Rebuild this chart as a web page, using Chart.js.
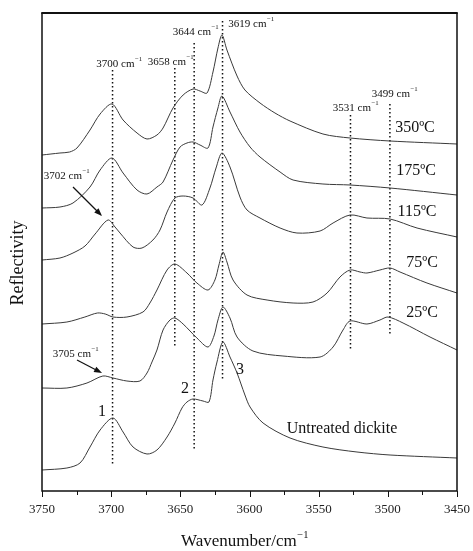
<!DOCTYPE html>
<html>
<head>
<meta charset="utf-8">
<script src="https://cdn.jsdelivr.net/npm/chart.js@4.4.1/dist/chart.umd.min.js"></script>
<style>
  html, body { margin: 0; padding: 0; background: #fff; }
  #chart { display: block; }
</style>
</head>
<body>
<canvas id="chart" width="473" height="551"></canvas>
<script>
// espectros IR (wavenumber, reflectividad desplazada en u.a.)
const t350 = [[3750,336],[3737,338],[3730,339],[3724.7,343],[3715.3,361],[3708,377],[3699.4,387],[3691.4,371],[3681.3,358],[3674.1,352],[3666.9,356],[3662.5,363],[3655.3,383],[3648,396],[3640.8,402],[3635.8,400],[3630.7,398],[3626.4,419],[3622.8,443],[3619.9,456],[3616.3,441],[3609,415],[3603.3,401],[3592.4,388],[3581.6,378],[3570.7,370],[3546.9,357],[3527.3,353],[3498.4,350],[3450,347]];
const t175 = [[3750,283],[3737,284],[3727.6,288],[3715.3,304],[3708,321],[3699.4,333],[3691.4,318],[3681.3,301],[3674.1,297],[3666.9,304],[3662.5,309],[3655.3,331],[3650.2,344],[3645.2,348],[3640.8,349],[3635.8,346],[3630,343],[3626.4,364],[3622.8,383],[3619.9,395],[3614.1,379],[3606.9,359],[3599.6,344],[3592.4,334],[3577.9,319],[3568.5,311],[3546.9,307],[3527.3,306],[3498.4,303],[3450,296]];
const t115 = [[3750,231],[3737,233],[3727.6,238],[3718.9,245],[3711.6,257],[3702.3,271],[3697.2,264],[3693.6,258],[3684.2,244],[3677.7,243],[3669.8,251],[3664.7,261],[3659.6,279],[3653.9,293],[3648,295],[3640.8,293],[3634.3,286],[3628.6,303],[3624.2,323],[3619.9,338],[3614.1,324],[3606.9,294],[3601.8,281],[3592.4,273],[3577.9,263],[3565.7,258],[3549,260],[3539.6,268],[3527.3,276],[3515.1,273],[3498.4,272],[3478.9,263],[3450,254]];
const t75 = [[3750,167],[3732,169],[3719,174],[3710,178],[3704.3,177],[3698.7,174],[3688.6,174],[3677,179],[3672,188],[3666.9,201],[3659.6,221],[3653.9,227],[3645.2,218],[3638,208],[3630,201],[3625,211],[3622.1,226],[3619.2,239],[3616.3,229],[3611.9,211],[3601.8,196],[3587.3,191],[3568.5,188],[3554.1,189],[3543.9,198],[3534.6,214],[3527.3,221],[3520.1,219],[3515.1,218],[3505.7,221],[3498.4,223],[3491.2,219],[3471.7,208],[3450,198]];
const t25 = [[3750,103],[3732,103],[3717.5,108],[3706,115],[3698.7,113],[3688.6,110],[3679.2,110],[3674.1,118],[3670.5,129],[3666.9,141],[3662.5,161],[3657.5,171],[3653.9,173],[3648,167],[3638,153],[3630,144],[3625.7,155],[3622.8,171],[3619.2,184],[3614.1,173],[3609,154],[3597.5,140],[3575.8,135],[3549,134],[3539.6,144],[3532.4,161],[3527.3,170],[3515.1,167],[3505.7,171],[3499.9,174],[3489,168],[3469.5,154],[3450,141]];
const untreated = [[3750,21],[3732,23],[3722.5,28],[3715.3,44],[3708,61],[3698.7,73],[3691.4,59],[3684.2,44],[3674.1,37],[3666.9,41],[3659.6,54],[3653.9,68],[3648.8,83],[3645.2,89],[3640.8,92],[3633.6,90],[3629.3,89],[3626.4,111],[3623.5,129],[3619.2,149],[3614.1,134],[3609,118],[3603.3,96],[3599.6,84],[3590.2,68],[3570.7,53],[3546.9,44],[3522.3,39],[3498.4,36],[3450,33]];

// lineas punteadas de los picos
const picosWn = [3699, 3654, 3640, 3619.5, 3527, 3498.5];
const picosTop = [421, 423, 448, 470, 376, 387];
const picosBottom = [27, 143, 40, 110, 140, 156];

// etiquetas de picos [texto, wn, y]
const etiquetasPicos = [['3700', 3694.3, 427], ['3658', 3657.1, 429], ['3644', 3639, 459], ['3619', 3598.9, 467], ['3531', 3523.4, 383], ['3499', 3495.2, 397], ['3702', 3732.3, 315], ['3705', 3725.8, 137]];
const flechas = [[3727.6, 304, 3706.6, 275], [3724.7, 131, 3706.6, 118]];
const etiquetasCurvas = [['350ºC', 3480.4, 363], ['175ºC', 3479.6, 320], ['115ºC', 3478.9, 279], ['75ºC', 3475.3, 228], ['25ºC', 3475.3, 178], ['Untreated dickite', 3533.1, 62]];
const numeros = [['1', 3706.6, 79], ['2', 3646.6, 102], ['3', 3606.9, 121]];

const xTicks = [3750, 3700, 3650, 3600, 3550, 3500, 3450];

const SERIF = "'Liberation Serif', 'Times New Roman', serif";

const toXY = arr => arr.map(p => ({ x: p[0], y: p[1] }));

const curvas = [t350, t175, t115, t75, t25, untreated].map(c => ({
    data: toXY(c),
    borderColor: '#3a3a3a',
    borderWidth: 1,
    pointRadius: 0,
    tension: 0.3,
    fill: false
}));

const lineasPicos = picosWn.map((wn, i) => ({
    data: [{ x: wn, y: picosTop[i] }, { x: wn, y: picosBottom[i] }],
    borderColor: '#111',
    borderWidth: 1.5,
    borderDash: [1.5, 2.5],
    pointRadius: 0,
    fill: false
}));

function textoSup(ctx, base, sup, cx, cy, size) {
    ctx.font = `${size}px ${SERIF}`;
    const w1 = ctx.measureText(base).width;
    ctx.font = `${size * 0.62}px ${SERIF}`;
    const w2 = ctx.measureText(sup).width;
    const x0 = cx - (w1 + w2) / 2;
    ctx.textAlign = 'left';
    ctx.textBaseline = 'middle';
    ctx.font = `${size}px ${SERIF}`;
    ctx.fillText(base, x0, cy);
    ctx.font = `${size * 0.62}px ${SERIF}`;
    ctx.fillText(sup, x0 + w1 + 0.5, cy - size * 0.42);
}

const anotaciones = {
    id: 'anotaciones',
    afterDraw(chart) {
        const { ctx, chartArea: a, scales: { x, y } } = chart;
        ctx.save();
        ctx.fillStyle = '#111';
        ctx.strokeStyle = '#111';

        // marco
        ctx.lineWidth = 1.5;
        ctx.beginPath();
        ctx.moveTo(a.left, a.top); ctx.lineTo(a.left, a.bottom);
        ctx.lineTo(a.right, a.bottom); ctx.lineTo(a.right, a.top);
        ctx.stroke();
        ctx.lineWidth = 2.2;
        ctx.beginPath();
        ctx.moveTo(a.left - 0.75, a.top); ctx.lineTo(a.right + 0.75, a.top);
        ctx.stroke();

        // marcas del eje x
        ctx.lineWidth = 1;
        for (let v = 3450; v <= 3750; v += 25) {
            const px = Math.round(x.getPixelForValue(v)) + 0.5;
            const largo = v % 50 === 0 ? 6 : 4;
            ctx.beginPath();
            ctx.moveTo(px, a.bottom);
            ctx.lineTo(px, a.bottom + largo);
            ctx.stroke();
        }

        etiquetasPicos.forEach(([t, wn, v]) => {
            textoSup(ctx, t + ' cm', '\u22121', x.getPixelForValue(wn), y.getPixelForValue(v), 11);
        });

        flechas.forEach(([w1, v1, w2, v2]) => {
            const x1 = x.getPixelForValue(w1), y1 = y.getPixelForValue(v1);
            const x2 = x.getPixelForValue(w2), y2 = y.getPixelForValue(v2);
            const ang = Math.atan2(y2 - y1, x2 - x1);
            ctx.lineWidth = 1.2;
            ctx.beginPath();
            ctx.moveTo(x1, y1);
            ctx.lineTo(x2 - 5 * Math.cos(ang), y2 - 5 * Math.sin(ang));
            ctx.stroke();
            ctx.beginPath();
            ctx.moveTo(x2, y2);
            ctx.lineTo(x2 - 8 * Math.cos(ang) + 3 * Math.sin(ang), y2 - 8 * Math.sin(ang) - 3 * Math.cos(ang));
            ctx.lineTo(x2 - 8 * Math.cos(ang) - 3 * Math.sin(ang), y2 - 8 * Math.sin(ang) + 3 * Math.cos(ang));
            ctx.closePath();
            ctx.fill();
        });

        ctx.textAlign = 'center';
        ctx.textBaseline = 'middle';
        etiquetasCurvas.forEach(([t, wn, v]) => {
            ctx.font = `16px ${SERIF}`;
            ctx.fillText(t, x.getPixelForValue(wn), y.getPixelForValue(v));
        });
        numeros.forEach(([t, wn, v]) => {
            ctx.font = `16px ${SERIF}`;
            ctx.fillText(t, x.getPixelForValue(wn), y.getPixelForValue(v));
        });

        // titulos de ejes
        textoSup(ctx, 'Wavenumber/cm', '\u22121', (a.left + a.right) / 2 - 5, 542, 17);
        ctx.save();
        ctx.translate(a.left - 24, (a.top + a.bottom) / 2 + 11);
        ctx.rotate(-Math.PI / 2);
        ctx.textAlign = 'center';
        ctx.textBaseline = 'middle';
        ctx.font = `18px ${SERIF}`;
        ctx.fillText('Reflectivity', 0, 0);
        ctx.restore();

        ctx.restore();
    }
};

new Chart(document.getElementById('chart').getContext('2d'), {
    type: 'line',
    data: { datasets: [...curvas, ...lineasPicos] },
    options: {
        responsive: false,
        animation: false,
        layout: { padding: { top: 13, right: 16, left: 0, bottom: 0 } },
        plugins: { legend: { display: false }, tooltip: { enabled: false } },
        scales: {
            x: {
                type: 'linear',
                reverse: true,
                min: 3450,
                max: 3750,
                afterBuildTicks: s => { s.ticks = xTicks.map(v => ({ value: v })); },
                afterFit: s => { s.height = 60; s.paddingLeft = 0; s.paddingRight = 0; },
                grid: { display: false, drawTicks: false },
                border: { display: false },
                ticks: {
                    padding: 11,
                    color: '#222',
                    font: { family: SERIF, size: 13 },
                    maxRotation: 0,
                    callback: v => String(v)
                }
            },
            y: {
                type: 'linear',
                min: 0,
                max: 478,
                afterFit: s => { s.width = 42; s.paddingTop = 0; s.paddingBottom = 0; },
                grid: { display: false, drawTicks: false },
                border: { display: false },
                ticks: { display: false }
            }
        }
    },
    plugins: [anotaciones]
});
</script>
</body>
</html>
